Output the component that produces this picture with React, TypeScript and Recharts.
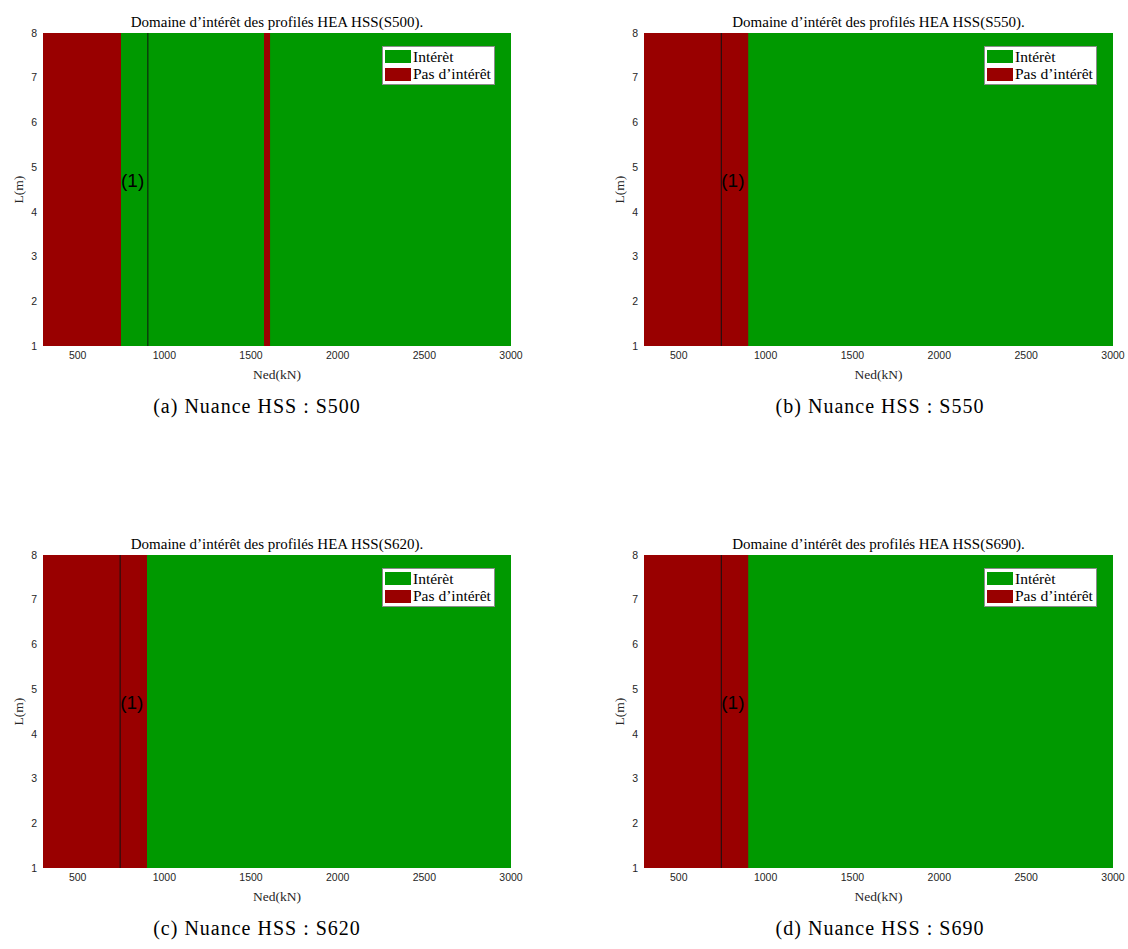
import { ScatterChart, Scatter, XAxis, YAxis, ReferenceArea, ReferenceLine, Legend } from "recharts";

const grades = ["S500", "S550", "S620", "S690"];
const tags = ["(a)", "(b)", "(c)", "(d)"];

// red (no-interest) bands per panel, in kN; the rest of the domain is green
const redBands: number[][][] = [
  [
    [300, 750],
    [1575, 1610],
  ],
  [[300, 900]],
  [[300, 900]],
  [[300, 900]],
];
const markerX = [905, 745, 745, 745];
const markerLabelX = [750, 745, 745, 745];
const markerLabelY = [4.7, 4.7, 4.7, 4.7];
const markerText = "(1)";

const xDomain = [300, 3000];
const yDomain = [1, 8];
const xTicks = [500, 1000, 1500, 2000, 2500, 3000];
const yTicks = [1, 2, 3, 4, 5, 6, 7, 8];

const legendLabels = ["Intérèt", "Pas d’intérêt"];

const GREEN = "#009900";
const RED = "#990000";
const SERIF = "Liberation Serif, DejaVu Serif, serif";
const SANS = "Liberation Sans, Arial, sans-serif";
const Y_AXIS_W = 30;
const CHART_H = 386;

function MarkerLabel(props: { cx?: number; cy?: number }) {
  const { cx = 0, cy = 0 } = props;
  return (
    <text x={cx} y={cy} dominantBaseline="central" fontFamily={SANS} fontSize={19} fill="#000">
      {markerText}
    </text>
  );
}

function LegendBox() {
  const colors = [GREEN, RED];
  return (
    <div
      style={{
        background: "#fff",
        border: "1px solid #8c8c8c",
        padding: "1px 3px 1px 2px",
        fontFamily: SERIF,
        fontSize: 15.5,
        color: "#000",
      }}
    >
      {legendLabels.map((l, k) => (
        <div key={l} style={{ display: "flex", alignItems: "center", height: 17.5 }}>
          <span style={{ width: 26, height: 13, background: colors[k], marginRight: 2, flexShrink: 0 }} />
          <span style={{ whiteSpace: "nowrap", fontFamily: SERIF }}>{l}</span>
        </div>
      ))}
    </div>
  );
}

interface PanelProps {
  i: number;
  left: number;
  top: number;
  width: number;
  marginLeft: number;
  marginRight: number;
  legendLeft: number;
  captionCenter: number;
}

function Panel({ i, left, top, width, marginLeft, marginRight, legendLeft, captionCenter }: PanelProps) {
  const plotLeft = marginLeft + Y_AXIS_W;
  const plotRight = width - marginRight;
  const point = [{ x: markerLabelX[i], y: markerLabelY[i] }];

  return (
    <div style={{ position: "absolute", left, top, width, height: 420 }}>
      <div
        style={{
          position: "absolute",
          left: plotLeft - 40,
          width: plotRight - plotLeft + 80,
          top: 15,
          textAlign: "center",
          fontFamily: SERIF,
          fontSize: 15,
          lineHeight: "15px",
          color: "#000",
          whiteSpace: "nowrap",
        }}
      >
        Domaine d’intérêt des profilés HEA HSS({grades[i]}).
      </div>

      <ScatterChart width={width} height={CHART_H} margin={{ top: 33, right: marginRight, bottom: 0, left: marginLeft }}>
        <XAxis
          type="number"
          dataKey="x"
          domain={xDomain}
          ticks={xTicks}
          allowDataOverflow
          axisLine={false}
          tickLine={false}
          tickSize={4}
          tickMargin={2}
          height={40}
          tick={{ fill: "#262626", fontSize: 10.5, fontFamily: SANS }}
          label={{
            content: ({ viewBox }: any) => {
              const vb = viewBox || { x: 0, y: 0, width: 0, height: 0 };
              return (
                <text
                  x={vb.x + vb.width / 2}
                  y={vb.y + 28}
                  textAnchor="middle"
                  dominantBaseline="central"
                  fontFamily={SERIF}
                  fontSize={13.5}
                  fill="#262626"
                >
                  Ned(kN)
                </text>
              );
            },
          }}
        />
        <YAxis
          type="number"
          dataKey="y"
          domain={yDomain}
          ticks={yTicks}
          allowDataOverflow
          axisLine={false}
          tickLine={false}
          tickSize={4}
          tickMargin={2}
          width={Y_AXIS_W}
          tick={{ fill: "#262626", fontSize: 10.5, fontFamily: SANS }}
          label={{
            content: ({ viewBox }: any) => {
              const vb = viewBox || { x: 0, y: 0, height: 0 };
              const x = vb.x + 5;
              const y = vb.y + vb.height / 2;
              return (
                <text
                  x={x}
                  y={y}
                  transform={`rotate(-90 ${x} ${y})`}
                  textAnchor="middle"
                  dominantBaseline="central"
                  fontFamily={SERIF}
                  fontSize={13.5}
                  fill="#262626"
                >
                  L(m)
                </text>
              );
            },
          }}
        />
        <ReferenceArea x1={xDomain[0]} x2={xDomain[1]} y1={yDomain[0]} y2={yDomain[1]} fill={GREEN} fillOpacity={1} stroke="none" />
        {redBands[i].map(([a, b], k) => (
          <ReferenceArea key={k} x1={a} x2={b} y1={yDomain[0]} y2={yDomain[1]} fill={RED} fillOpacity={1} stroke="none" />
        ))}
        <ReferenceLine x={markerX[i]} stroke="#111" strokeWidth={1} />
        <Scatter data={point} shape={<MarkerLabel />} isAnimationActive={false} />
        <Legend
          layout="horizontal"
          verticalAlign="middle"
          align="center"
          content={() => <LegendBox />}
          wrapperStyle={{ position: "absolute", left: legendLeft, top: 46, width: "auto", height: "auto" }}
        />
      </ScatterChart>

      <div
        style={{
          position: "absolute",
          left: captionCenter - 150,
          width: 300,
          top: CHART_H + 9,
          textAlign: "center",
          fontFamily: SERIF,
          fontSize: 20,
          letterSpacing: "1px",
          lineHeight: "22px",
          color: "#000",
          whiteSpace: "nowrap",
        }}
      >
        {tags[i]} Nuance HSS : {grades[i]}
      </div>
    </div>
  );
}

export default function App() {
  return (
    <div style={{ position: "absolute", left: 0, top: 0, width: 1128, height: 949, background: "#fff" }}>
      <Panel i={0} left={0} top={0} width={560} marginLeft={13} marginRight={49} legendLeft={382} captionCenter={257} />
      <Panel i={1} left={560} top={0} width={568} marginLeft={54} marginRight={15} legendLeft={424} captionCenter={320} />
      <Panel i={2} left={0} top={522} width={560} marginLeft={13} marginRight={49} legendLeft={382} captionCenter={257} />
      <Panel i={3} left={560} top={522} width={568} marginLeft={54} marginRight={15} legendLeft={424} captionCenter={320} />
    </div>
  );
}
